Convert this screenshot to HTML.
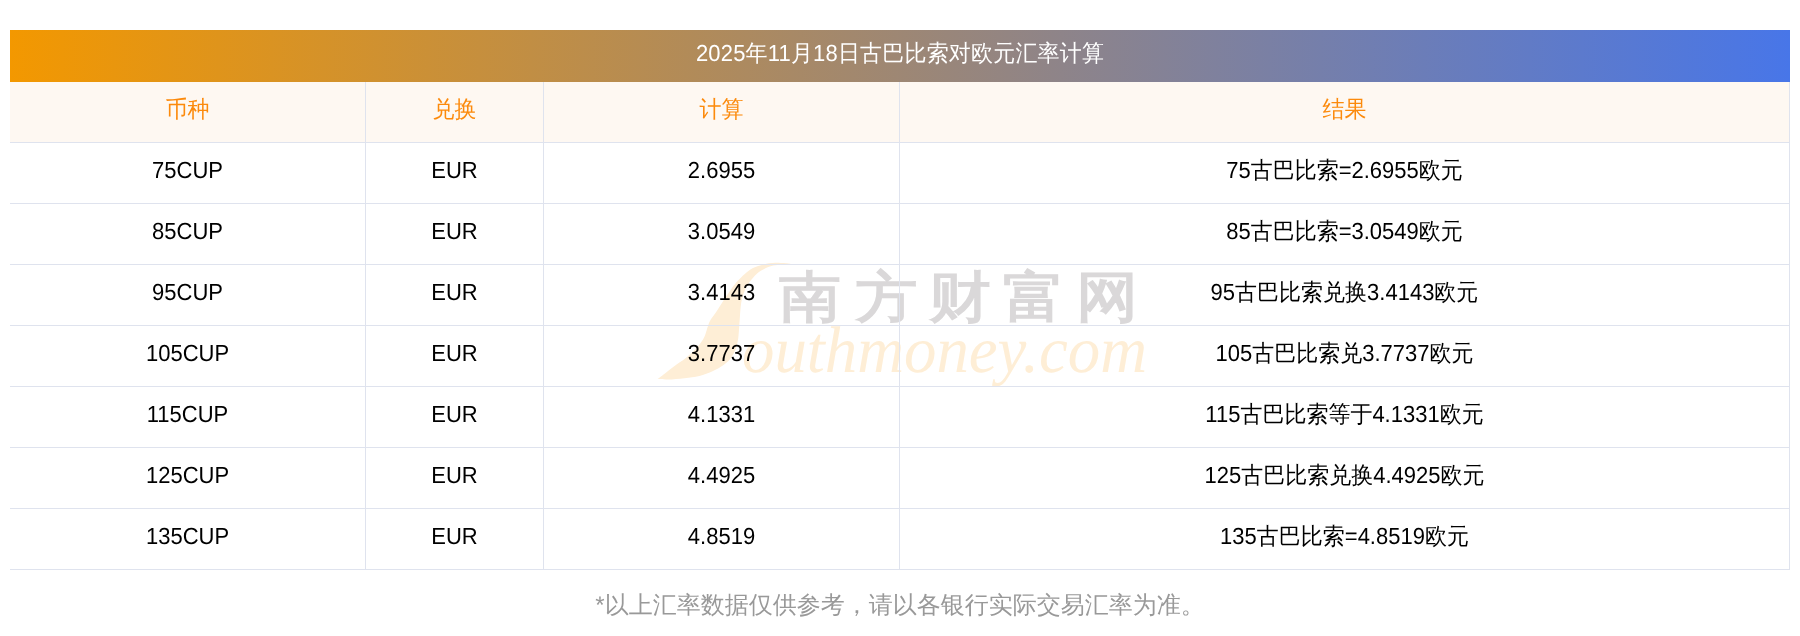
<!DOCTYPE html>
<html><head><meta charset="utf-8">
<style>
html,body{margin:0;padding:0;background:#fff;}
body{will-change:transform;text-rendering:geometricPrecision;width:1800px;height:636px;overflow:hidden;position:relative;font-family:"Liberation Sans",sans-serif;}
.title{position:absolute;left:10px;top:30px;width:1780px;height:52px;background:linear-gradient(90deg,#f39800,#4876e8);color:#fff;font-size:22px;line-height:47px;text-align:center;letter-spacing:0.18px;}
table{position:absolute;z-index:1;left:10px;top:82px;width:1780px;border-collapse:separate;border-spacing:0;table-layout:fixed;}
td,th{height:55px;padding:0 0 5px 0;text-align:center;font-size:22px;color:#000;font-weight:normal;border-right:1px solid #dfe3ee;border-bottom:1px solid #dfe3ee;}
th{background:#fef8f2;color:#fc8a0c;}
td span,th span,.title span{display:inline-block;transform:scaleY(1.06);}
.wm{position:absolute;left:0;top:0;z-index:0;}
.note{position:absolute;left:0;width:1800px;top:590px;text-align:center;color:#999;font-size:24px;}
</style></head><body>
<svg class="wm" width="1800" height="636" viewBox="0 0 1800 636">
<path fill="#feeed6" d="M792 263.5 C792.0 263.5 780.2 262.6 775.5 262.7 C770.8 262.8 767.5 263.5 763.7 264.4 C760.0 265.3 756.1 266.4 753 268 C749.9 269.6 747.5 271.5 744.8 273.9 C742.1 276.2 739.1 279.2 736.6 282.1 C734.1 285.1 731.9 288.2 729.5 291.6 C727.1 295.0 724.6 298.9 722.4 302.2 C720.2 305.5 718.5 308.6 716.5 311.6 C714.5 314.6 712.0 317.5 710.5 320 C709.0 322.5 708.7 324.0 707.8 326.6 C706.9 329.2 706.2 332.6 705 335.4 C703.8 338.1 702.4 340.5 700.6 343.1 C698.8 345.7 696.6 348.2 694 350.8 C691.4 353.4 688.5 355.9 685.2 358.5 C681.9 361.1 677.7 363.6 674.2 366.2 C670.7 368.8 667.0 371.8 664.3 373.9 C661.5 376.0 657.7 378.9 657.7 378.9 C657.7 378.9 666.9 379.6 672 379.4 C677.1 379.2 683.4 378.5 688.5 377.8 C693.6 377.1 698.2 376.4 702.8 375 C707.4 373.6 712.3 371.3 716 369.5 C719.7 367.7 722.2 366.0 724.8 364 C727.4 362.0 729.6 360.0 731.4 357.4 C733.2 354.8 734.7 351.5 735.8 348.6 C736.9 345.7 737.5 342.7 738 339.8 C738.5 336.9 738.6 334.3 738.9 331 C739.2 327.7 739.3 324.8 739.7 320 C740.1 315.2 740.4 307.1 741.3 302.2 C742.1 297.3 743.4 293.8 744.8 290.4 C746.2 287.0 747.5 284.9 749.5 282.1 C751.5 279.4 754.2 276.0 756.6 273.9 C759.0 271.8 761.0 270.6 763.7 269.2 C766.5 267.8 770.0 266.4 773.1 265.6 C776.2 264.8 779.4 264.8 782.5 264.4 C785.6 264.0 792.0 263.5 792 263.5Z"/>
<g fill="#dad8d9" font-size="62" font-weight="bold" text-anchor="middle" transform="translate(0,295.4) scale(1,0.89) translate(0,-295.4)">
<text x="810" y="318">南</text><text x="886.6" y="318">方</text><text x="960" y="318">财</text><text x="1034" y="318">富</text><text x="1107.3" y="318">网</text>
</g>
<text x="742" y="372" fill="#feeed6" font-size="66" style="font-family:'Liberation Serif',serif;font-style:italic" textLength="405" lengthAdjust="spacingAndGlyphs">outhmoney.com</text>
</svg>
<div class="title"><span>2025年11月18日古巴比索对欧元汇率计算</span></div>
<table>
<colgroup><col style="width:356px"><col style="width:178px"><col style="width:356px"><col style="width:890px"></colgroup>
<tr><th><span>币种</span></th><th><span>兑换</span></th><th><span>计算</span></th><th><span>结果</span></th></tr>
<tr><td><span>75CUP</span></td><td><span>EUR</span></td><td><span>2.6955</span></td><td><span>75古巴比索=2.6955欧元</span></td></tr>
<tr><td><span>85CUP</span></td><td><span>EUR</span></td><td><span>3.0549</span></td><td><span>85古巴比索=3.0549欧元</span></td></tr>
<tr><td><span>95CUP</span></td><td><span>EUR</span></td><td><span>3.4143</span></td><td><span>95古巴比索兑换3.4143欧元</span></td></tr>
<tr><td><span>105CUP</span></td><td><span>EUR</span></td><td><span>3.7737</span></td><td><span>105古巴比索兑3.7737欧元</span></td></tr>
<tr><td><span>115CUP</span></td><td><span>EUR</span></td><td><span>4.1331</span></td><td><span>115古巴比索等于4.1331欧元</span></td></tr>
<tr><td><span>125CUP</span></td><td><span>EUR</span></td><td><span>4.4925</span></td><td><span>125古巴比索兑换4.4925欧元</span></td></tr>
<tr><td><span>135CUP</span></td><td><span>EUR</span></td><td><span>4.8519</span></td><td><span>135古巴比索=4.8519欧元</span></td></tr>
</table>
<div class="note">*以上汇率数据仅供参考，请以各银行实际交易汇率为准。</div>
</body></html>
